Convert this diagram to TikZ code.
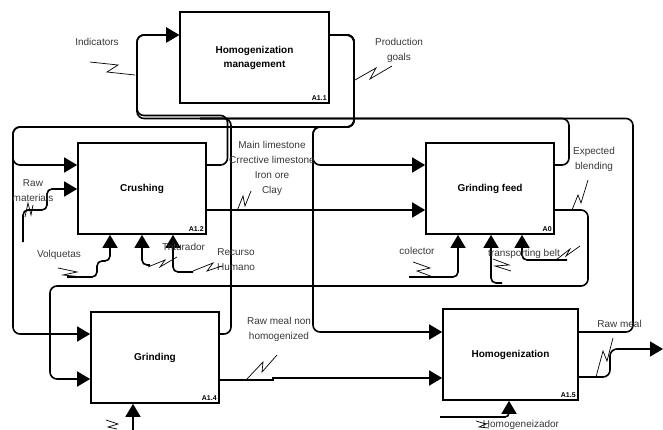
\documentclass[tikz,border=0pt]{standalone}
\usepackage{fontspec}
\setmainfont{Liberation Sans}
\usetikzlibrary{arrows.meta}
\begin{document}
\begin{tikzpicture}[x=1pt,y=-1pt,
  box/.style={draw, line width=1.7pt, inner sep=0pt, align=center,
    font=\fontsize{10}{14}\selectfont\bfseries},
  boxid/.style={anchor=south east, inner sep=3pt, font=\fontsize{7}{8}\selectfont\bfseries},
  lbl/.style={inner sep=0pt, align=center, text=black!78, font=\fontsize{10}{15}\selectfont},
  flow/.style={line width=1.6pt, rounded corners=7pt},
  tip/.style={-{Triangle[length=13pt,width=15pt]}},
  zig/.style={line width=0.7pt},
]
\useasboundingbox (0,0) rectangle (663,430);

% activity boxes
\node[box, minimum width=149pt, minimum height=91pt] (A11) at (254.5,57.5) {Homogenization\\management};
\node[box, minimum width=128pt, minimum height=91pt] (A12) at (142,188.5) {Crushing};
\node[box, minimum width=128pt, minimum height=91pt] (A0)  at (490,188.5) {Grinding feed};
\node[box, minimum width=128pt, minimum height=91pt] (A14) at (155,357.5) {Grinding};
\node[box, minimum width=135pt, minimum height=91pt] (A15) at (510.5,354.5) {Homogenization};

\node[boxid] (id11) at (A11.south east) {A1.1};
\node[boxid] (id12) at (A12.south east) {A1.2};
\node[boxid] (id0)  at (A0.south east)  {A0};
\node[boxid] (id14) at (A14.south east) {A1.4};
\node[boxid] (id15) at (A15.south east) {A1.5};

% free ends of boundary arrows
\coordinate (rawIn)   at (23,242);
\coordinate (volqIn)  at (67,277);
\coordinate (tritIn)  at (150,265);
\coordinate (recIn)   at (193,272);
\coordinate (colIn)   at (409,277);
\coordinate (beltInA) at (502,283);
\coordinate (beltInB) at (567,260);
\coordinate (grMech)  at (133,430);
\coordinate (homMech) at (440,417);
\coordinate (rawOut)  at (663,349);

% production goals from management to every activity
\draw[flow,tip] (A11.east |- 0,35) -- (354,35) -- (354,127) -- (13,127) -- (13,165) -- (A12.west |- 0,165);
\draw[flow,tip] (A11.east |- 0,35) -- (354,35) -- (354,127) -- (13,127) -- (13,334) -- (A14.west |- 0,334);
\draw[flow,tip] (A11.east |- 0,35) -- (354,35) -- (354,127) -- (313,127) -- (313,165) -- (A0.west |- 0,165);
\draw[flow,tip] (A11.east |- 0,35) -- (354,35) -- (354,127) -- (313,127) -- (313,332) -- (A15.west |- 0,332);

% indicators fed back to management
\draw[flow,tip] (A12.east |- 0,165) -- (227.5,165) -- (227.5,115.5) -- (137,115.5) -- (137,35) -- (A11.west |- 0,35);
\draw[flow,tip] (A14.east |- 0,334) -- (231,334) -- (231,118.5) -- (137,118.5) -- (137,35) -- (A11.west |- 0,35);
\draw[flow] (A0.east |- 0,165) -- (569,165) -- (569,118.5) -- (200,118.5);
\draw[flow] (A15.east |- 0,332) -- (633,332) -- (633,118.5) -- (200,118.5);

% materials from crushing to grinding feed
\draw[flow,tip] (A12.east |- 0,210) -- (A0.west |- 0,210);

% raw materials into crushing
\draw[flow,rounded corners=5pt,tip] (rawIn) -- (23,210) -- (47,210) -- (47,189) -- (A12.west |- 0,189);

% crushing mechanisms
\draw[flow,rounded corners=5pt,tip] (volqIn) -- (97,277) -- (97,261) -- (110,261) -- (110,0 |- A12.south);
\draw[flow,rounded corners=5pt,tip] (tritIn) -- (142,265) -- (142,0 |- A12.south);
\draw[flow,rounded corners=5pt,tip] (recIn) -- (173,272) -- (173,0 |- A12.south);

% grinding feed mechanisms
\draw[flow,rounded corners=5pt,tip] (colIn) -- (458,277) -- (458,0 |- A0.south);
\draw[flow,rounded corners=5pt,tip] (beltInA) -- (491,283) -- (491,0 |- A0.south);
\draw[flow,rounded corners=5pt,tip] (beltInB) -- (522,260) -- (522,0 |- A0.south);

% expected blending to grinding
\draw[flow,tip] (A0.east |- 0,210) -- (588,210) -- (588,286) -- (50,286) -- (50,379) -- (A14.west |- 0,379);

% raw meal not yet homogenized
\draw[line width=1.6pt,tip] (A14.east |- 0,380) -- (273,380) -- (273,378) -- (A15.west |- 0,378);

% raw meal leaving the homogenization
\draw[flow,tip] (A15.east |- 0,377) -- (610,377) -- (610,349) -- (rawOut);

% mechanisms of grinding and homogenization
\draw[flow,tip] (grMech) -- (133,0 |- A14.south);
\draw[flow,rounded corners=4pt,tip] (homMech) -- (509,417) -- (509,0 |- A15.south);

% labels
\node[lbl] (tInd)  at (97,42) {Indicators};
\node[lbl] (tProd) at (399,50) {Production\\goals};
\node[lbl] (tMat)  at (272,168.5) {Main limestone\\Crrective limestone\\Iron ore\\Clay};
\node[lbl] (tRaw)  at (33,190.5) {Raw\\materials};
\node[lbl] (tVolq) at (59,255) {Volquetas};
\node[lbl] (tTrit) at (183.5,247) {Triturador};
\node[lbl] (tRec)  at (236,260) {Recurso\\Humano};
\node[lbl] (tCol)  at (417,251) {colector};
\node[lbl] (tBelt) at (524,254) {transporting belt};
\node[lbl] (tExp)  at (594,159.5) {Expected\\blending};
\node[lbl] (tNon)  at (279,329.5) {Raw meal non\\homogenized};
\node[lbl] (tMeal) at (619.5,324) {Raw meal};
\node[lbl] (tHom)  at (521,425) {Homogeneizador};

% label leaders
\draw[zig] (90,62) -- (118,65) -- (107,72) -- (135,75);
\draw[zig] (392,66) -- (370,79) -- (376,68) -- (355,80);
\draw[zig] (237,211) -- (243,196) -- (245,206) -- (251,191);
\draw[zig] (25,217) -- (28,203) -- (31,215) -- (33,205);
\draw[zig] (58,268) -- (77,272) -- (63,275) -- (83,277);
\draw[zig] (148,267) -- (165,260) -- (160,267) -- (177,257);
\draw[zig] (193,271) -- (213,263) -- (207,271) -- (222,266);
\draw[zig] (413,262) -- (430,268) -- (417,271) -- (433,277);
\draw[zig] (493,259) -- (509,265) -- (495,266) -- (511,271);
\draw[zig] (556,260) -- (570,249) -- (566,256) -- (580,246);
\draw[zig] (572,210) -- (578,195) -- (581,203) -- (588,180);
\draw[zig] (247,379) -- (263,362) -- (262,372) -- (277,355);
\draw[zig] (596,377) -- (603,351) -- (607,361) -- (613,338);
\draw[zig] (106,420) -- (118,424) -- (108,427) -- (117,429);
\draw[zig] (476,421) -- (486,424) -- (479,427) -- (489,428);
\end{tikzpicture}
\end{document}
